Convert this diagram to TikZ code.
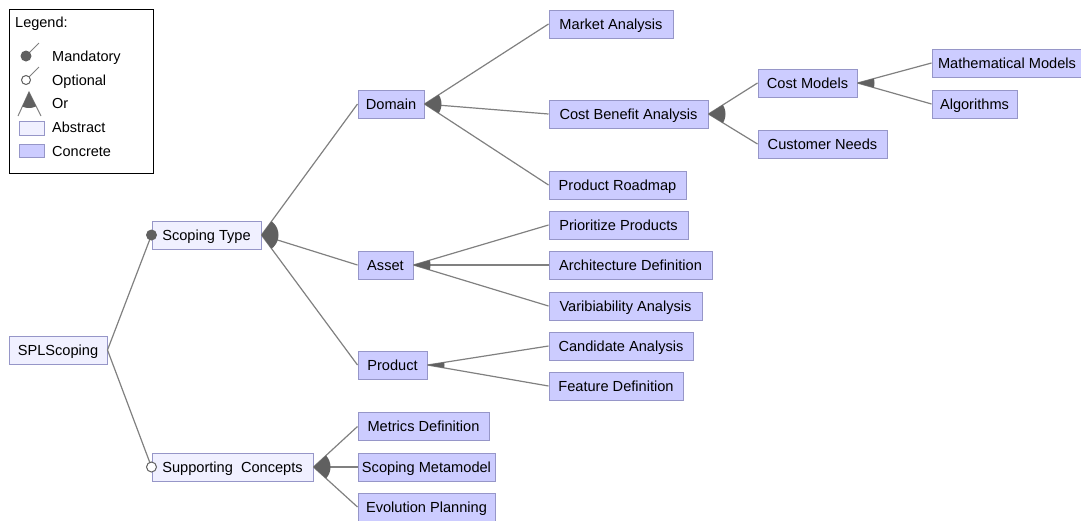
\documentclass[tikz,border=0pt]{standalone}
\usepackage{fontspec}
\setmainfont{Liberation Sans}
\usetikzlibrary{calc}
\definecolor{concretefill}{RGB}{204,204,255}
\definecolor{abstractfill}{RGB}{240,240,255}
\definecolor{boxborder}{RGB}{150,150,200}
\definecolor{edgegray}{RGB}{128,128,128}
\definecolor{symbolgray}{RGB}{96,96,96}
\begin{document}
\begin{tikzpicture}[x=1pt,y=-1pt,
  feat/.style={draw=boxborder, line width=1pt, minimum height=28pt, inner sep=0pt,
    text height=10.5pt, text depth=0pt,
    font=\fontsize{14.6}{17}\selectfont, text=black},
  concrete/.style={feat, fill=concretefill},
  abstract/.style={feat, fill=abstractfill},
  edge/.style={draw=edgegray, line width=1.2pt},
  orfill/.style={fill=symbolgray},
  mandcirc/.style={fill=symbolgray},
  optcirc/.style={fill=white, draw=symbolgray, line width=1pt},
  legtext/.style={anchor=west, inner sep=0pt, text height=10pt, text depth=0pt,
    font=\fontsize{14.5}{16}\selectfont},
]
\useasboundingbox (0,0) rectangle (1081,520);

% ---------- feature boxes ----------
\node[abstract, minimum width=98pt]  (spl)     at (58,350)    {SPLScoping};
\node[abstract, minimum width=109pt] (stype)   at (206.5,235) {Scoping Type};
\node[abstract, minimum width=161pt] (supp)    at (232.5,467) {Supporting\ \ Concepts};

\node[concrete, minimum width=66pt]  (domain)  at (391,104)   {Domain};
\node[concrete, minimum width=55pt]  (asset)   at (385.5,265) {Asset};
\node[concrete, minimum width=69pt]  (product) at (392.5,365) {Product};

\node[concrete, minimum width=124pt] (market)  at (611,24)    {Market Analysis};
\node[concrete, minimum width=159pt] (cba)     at (628.5,114) {Cost Benefit Analysis};
\node[concrete, minimum width=137pt] (roadmap) at (617.5,185) {Product Roadmap};

\node[concrete, minimum width=139pt] (prio)    at (618.5,225) {Prioritize Products};
\node[concrete, minimum width=163pt] (arch)    at (630.5,265) {Architecture Definition};
\node[concrete, minimum width=153pt] (vari)    at (625.5,306) {Varibiability Analysis};

\node[concrete, minimum width=144pt] (cand)    at (621,346)   {Candidate Analysis};
\node[concrete, minimum width=134pt] (featdef) at (616,386)   {Feature Definition};

\node[concrete, minimum width=99pt]  (costm)   at (807.5,83)  {Cost Models};
\node[concrete, minimum width=129pt] (custn)   at (822.5,144) {Customer Needs};
\node[concrete, minimum width=150pt] (math)    at (1007,63)   {Mathematical Models};
\node[concrete, minimum width=85pt]  (algo)    at (974.5,104) {Algorithms};

\node[concrete, minimum width=131pt] (metrics) at (423.5,426.5) {Metrics Definition};
\node[concrete, minimum width=137pt] (scopmm)  at (426.5,467) {Scoping Metamodel};
\node[concrete, minimum width=137pt] (evol)    at (426.5,507) {Evolution Planning};

% ---------- parent-child edges ----------
\foreach \p/\c in {spl/stype, spl/supp,
    stype/domain, stype/asset, stype/product,
    domain/market, domain/cba, domain/roadmap,
    cba/costm, cba/custn, costm/math, costm/algo,
    asset/prio, asset/arch, asset/vari,
    product/cand, product/featdef,
    supp/metrics, supp/scopmm, supp/evol}
  \draw[edge] (\p.east) -- (\c.west);

% ---------- or-group sectors ----------
\begin{scope}
  \clip (stype.east) circle (17pt);
  \fill[orfill] (stype.east) -- (domain.west) -- (asset.west) -- (product.west) -- cycle;
\end{scope}
\begin{scope}
  \clip (domain.east) circle (17pt);
  \fill[orfill] (domain.east) -- (market.west) -- (cba.west) -- (roadmap.west) -- cycle;
\end{scope}
\begin{scope}
  \clip (cba.east) circle (17pt);
  \fill[orfill] (cba.east) -- (costm.west) -- (custn.west) -- cycle;
\end{scope}
\begin{scope}
  \clip (costm.east) circle (17pt);
  \fill[orfill] (costm.east) -- (math.west) -- (algo.west) -- cycle;
\end{scope}
\begin{scope}
  \clip (asset.east) circle (17pt);
  \fill[orfill] (asset.east) -- (prio.west) -- (arch.west) -- (vari.west) -- cycle;
\end{scope}
\begin{scope}
  \clip (product.east) circle (17pt);
  \fill[orfill] (product.east) -- (cand.west) -- (featdef.west) -- cycle;
\end{scope}
\begin{scope}
  \clip (supp.east) circle (17pt);
  \fill[orfill] (supp.east) -- (metrics.west) -- (scopmm.west) -- (evol.west) -- cycle;
\end{scope}

% ---------- mandatory / optional markers ----------
\fill[mandcirc] (stype.west) circle (5.5pt);
\filldraw[optcirc] (supp.west) circle (5pt);

% ---------- legend ----------
\node[draw=black, line width=1pt, minimum width=144pt, minimum height=164pt,
  inner sep=0pt, anchor=north west] (legend) at (9,9) {};
\node[legtext] (lgtitle) at (15,22)  {Legend:};
\node[legtext] (lgmand)  at (52,56)  {Mandatory};
\node[legtext] (lgopt)   at (52,80)  {Optional};
\node[legtext] (lgor)    at (52,103) {Or};
\node[legtext] (lgabs)   at (52,127) {Abstract};
\node[legtext] (lgcon)   at (52,151) {Concrete};

\draw[edge, line width=1pt] (26,56) -- (39,43);
\fill[mandcirc] (26,56) circle (5.5pt);
\draw[edge, line width=1pt] (26,80) -- (39,67);
\filldraw[optcirc] (26,80) circle (4.5pt);
\coordinate (orapex) at (29,92);
\coordinate (orleft) at (18,116);
\coordinate (orright) at (41,116);
\draw[edge, line width=1pt] (orleft) -- (orapex) -- (orright);
\begin{scope}
  \clip (orapex) circle (16pt);
  \fill[orfill] (orapex) -- (orleft) -- (orright) -- cycle;
\end{scope}
\draw[draw=boxborder, fill=abstractfill, line width=1pt] (19,121) rectangle (44,135);
\draw[draw=boxborder, fill=concretefill, line width=1pt] (19,144) rectangle (44,157);
\end{tikzpicture}
\end{document}
